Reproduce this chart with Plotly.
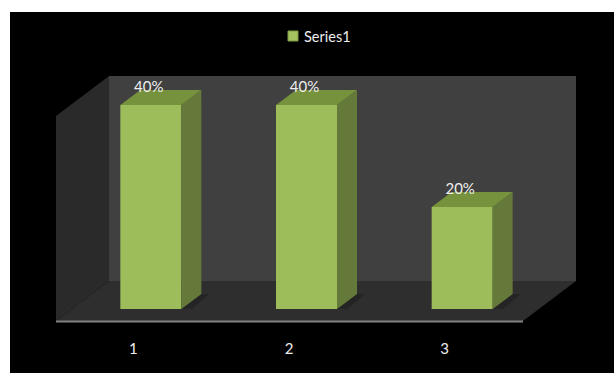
import plotly.graph_objects as go

categories = [1, 2, 3]
series_name = "Series1"
values = [40, 40, 20]
labels = ["40%", "40%", "20%"]

W, H = 614, 373
ML, MR, MT, MB = 73, 74, 76, 64
PX_W = W - ML - MR
PX_H = H - MT - MB
YMAX = 45.7
XR = (0.5, 3.5)
UX = PX_W / (XR[1] - XR[0])
UY = PX_H / YMAX
BAR_W = 61 / UX
DX, DY = 20 / UX, 15 / UY

FRONT, SIDE, TOP = "#9dbd5b", "#65793a", "#76923c"
TXT = "#eeeeee"


def px(x):
    return (x - ML) / PX_W


def py(y):
    return 1 - (y - MT) / PX_H


def poly(points, color):
    path = "M" + "L".join(f"{px(a):.5f},{py(b):.5f}" for a, b in points) + "Z"
    return dict(type="path", xref="paper", yref="paper", path=path, fillcolor=color,
                line=dict(width=0), layer="below")


shapes = [
    poly([(10, 12), (614, 12), (614, 373), (10, 373)], "#000000"),
    poly([(109, 76), (576, 76), (576, 281), (109, 281)], "#404040"),
    poly([(56, 116), (109, 76), (109, 281), (56, 321)], "#2a2a2a"),
    poly([(56, 321), (109, 281), (576, 281), (523, 321)], "#2e2e2e"),
    dict(type="line", xref="paper", yref="paper", x0=px(56), x1=px(523), y0=py(321.5), y1=py(321.5),
         line=dict(color="#808080", width=2), layer="below"),
    dict(type="rect", xref="paper", yref="paper", x0=px(288), x1=px(298), y0=py(41), y1=py(31),
         fillcolor="#a4c25f", line=dict(color="#7d9a45", width=1), layer="above"),
]

fig = go.Figure()

for c in categories:
    xl, xr = c - BAR_W / 2, c + BAR_W / 2
    fig.add_trace(go.Scatter(
        x=[xl - 0.5 * DX, xr, xr + DX, xr + 1.4 * DX, xr + 0.4 * DX, xl - 0.5 * DX],
        y=[0, 0, DY, DY, -0.15 * DY, -0.15 * DY],
        fill="toself", fillcolor="rgba(0,0,0,0.2)", mode="none",
        showlegend=False, hoverinfo="skip", cliponaxis=False))

for c, v in zip(categories, values):
    xr = c + BAR_W / 2
    xl = c - BAR_W / 2
    fig.add_trace(go.Scatter(
        x=[xr, xr + DX, xr + DX, xr, xr], y=[0, DY, v + DY, v, 0],
        fill="toself", fillcolor=SIDE, mode="none",
        showlegend=False, hoverinfo="skip", cliponaxis=False))
    fig.add_trace(go.Scatter(
        x=[xl, xr, xr + DX, xl + DX, xl], y=[v, v, v + DY, v + DY, v],
        fill="toself", fillcolor=TOP, mode="none",
        showlegend=False, hoverinfo="skip", cliponaxis=False))

fig.add_trace(go.Bar(
    x=categories, y=values, width=BAR_W, name=series_name, showlegend=False,
    marker=dict(color=FRONT, line=dict(width=0)), hoverinfo="skip", cliponaxis=False))

fig.add_trace(go.Scatter(
    x=[c - 2 / UX for c in categories], y=[v + 17 / UY for v in values],
    text=labels, mode="text", textposition="middle center",
    textfont=dict(family="Lato, sans-serif", size=15, color=TXT),
    showlegend=False, hoverinfo="skip", cliponaxis=False))

fig.update_layout(
    width=W, height=H, autosize=False,
    margin=dict(l=ML, r=MR, t=MT, b=MB, pad=0),
    paper_bgcolor="#ffffff", plot_bgcolor="rgba(0,0,0,0)",
    shapes=shapes,
    showlegend=False,
    annotations=[dict(xref="paper", yref="paper", x=px(302), y=py(36), xanchor="left", yanchor="middle",
                      text=series_name, showarrow=False,
                      font=dict(family="Lato, sans-serif", size=14.5, color=TXT))],
    xaxis=dict(range=list(XR), tickvals=[c - 17.5 / UX for c in categories], ticktext=[str(c) for c in categories],
               showgrid=False, zeroline=False, showline=False,
               ticks="outside", ticklen=26, tickcolor="rgba(0,0,0,0)",
               tickfont=dict(family="Lato, sans-serif", size=15, color=TXT)),
    yaxis=dict(range=[0, YMAX], visible=False, showgrid=False, zeroline=False),
    font=dict(family="Lato, sans-serif"),
)

fig.write_html("out.html", config={"displayModeBar": False}, post_script="document.body.style.margin='0';")
